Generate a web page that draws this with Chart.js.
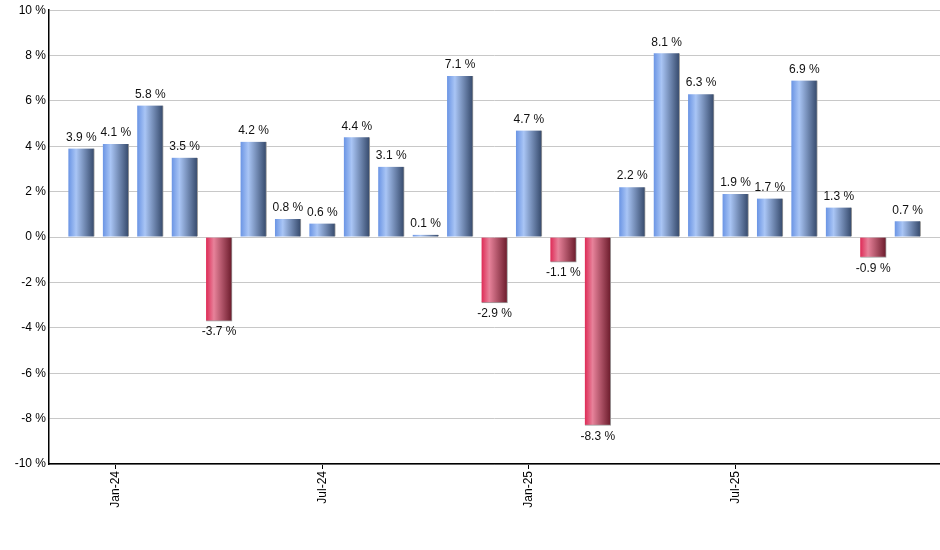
<!DOCTYPE html>
<html>
<head>
<meta charset="utf-8">
<script src="https://cdn.jsdelivr.net/npm/chart.js@4.4.1/dist/chart.umd.min.js"></script>
<style>
  html, body { margin: 0; padding: 0; background: #fff; }
  #wrap { width: 940px; height: 550px; }
</style>
</head>
<body>
<div id="wrap"><canvas id="chart"></canvas></div>
<script>
// monthly returns, Dec-23 .. Dec-25
const months = [
  "Dec-23", "Jan-24", "Feb-24", "Mar-24", "Apr-24", "May-24", "Jun-24",
  "Jul-24", "Aug-24", "Sep-24", "Oct-24", "Nov-24", "Dec-24",
  "Jan-25", "Feb-25", "Mar-25", "Apr-25", "May-25", "Jun-25",
  "Jul-25", "Aug-25", "Sep-25", "Oct-25", "Nov-25", "Dec-25"
];
const returns = [
  3.9, 4.1, 5.8, 3.5, -3.7, 4.2, 0.8, 0.6, 4.4, 3.1, 0.1, 7.1, -2.9,
  4.7, -1.1, -8.3, 2.2, 8.1, 6.3, 1.9, 1.7, 6.9, 1.3, -0.9, 0.7
];
const yTicks = [-10, -8, -6, -4, -2, 0, 2, 4, 6, 8, 10];
const xTickMonths = ["Jan-24", "Jul-24", "Jan-25", "Jul-25"];

const FONT = "'Liberation Sans', Arial, sans-serif";

function barGradient(context) {
  const chart = context.chart;
  const xScale = chart.scales.x;
  if (!xScale || context.type !== 'data') return '#7fa3e8';
  const cx = xScale.getPixelForValue(context.parsed.x);
  if (!isFinite(cx)) return '#7fa3e8';
  const g = chart.ctx.createLinearGradient(cx - 13, 0, cx + 13, 0);
  if (context.parsed.y >= 0) {
    g.addColorStop(0, '#6a94e4');
    g.addColorStop(0.3, '#a9c5f5');
    g.addColorStop(1, '#34486a');
  } else {
    g.addColorStop(0, '#de2a56');
    g.addColorStop(0.3, '#e7829a');
    g.addColorStop(1, '#6a1a2a');
  }
  return g;
}

const valueLabels = {
  id: 'valueLabels',
  afterDatasetsDraw(chart) {
    const ctx = chart.ctx;
    const meta = chart.getDatasetMeta(0);
    ctx.save();
    ctx.font = "12px " + FONT;
    ctx.fillStyle = '#111';
    ctx.textAlign = 'center';
    meta.data.forEach((bar, i) => {
      const v = returns[i];
      const txt = v.toFixed(1) + ' %';
      if (v >= 0) {
        ctx.textBaseline = 'bottom';
        ctx.fillText(txt, bar.x, bar.y - 5);
      } else {
        ctx.textBaseline = 'top';
        ctx.fillText(txt, bar.x, bar.y + 5);
      }
    });
    ctx.restore();
  }
};

new Chart(document.getElementById('chart'), {
  type: 'bar',
  data: {
    datasets: [{
      data: returns.map((v, i) => ({ x: i, y: v })),
      backgroundColor: barGradient,
      borderColor: '#9c9c9c',
      borderWidth: { top: 0, left: 0, right: 1, bottom: 1 },
      barThickness: 26
    }]
  },
  options: {
    responsive: true,
    maintainAspectRatio: false,
    animation: false,
    layout: { padding: { top: 9, right: 0, left: 0, bottom: 0 } },
    plugins: {
      legend: { display: false },
      tooltip: { enabled: false }
    },
    scales: {
      x: {
        type: 'linear',
        offset: false,
        min: -0.94,
        max: 24.94,
        afterBuildTicks: (scale) => {
          scale.ticks = xTickMonths.map(m => ({ value: months.indexOf(m) }));
        },
        afterFit: (scale) => { scale.height = 86; },
        ticks: {
          autoSkip: false,
          minRotation: 90,
          maxRotation: 90,
          padding: 2,
          color: '#000',
          font: { family: FONT, size: 12 },
          callback: (value) => months[value]
        },
        grid: {
          offset: false,
          drawOnChartArea: false,
          drawTicks: true,
          tickLength: 5,
          tickColor: '#000'
        },
        border: { display: true, color: '#000', width: 1.5 }
      },
      y: {
        min: -10,
        max: 10,
        afterBuildTicks: (scale) => {
          scale.ticks = yTicks.map(v => ({ value: v }));
        },
        afterFit: (scale) => { scale.width = 49; },
        ticks: {
          padding: 3,
          color: '#000',
          font: { family: FONT, size: 12 },
          callback: (value) => value + ' %'
        },
        grid: {
          color: '#c8c8c8',
          lineWidth: 1,
          drawTicks: false
        },
        border: { display: true, color: '#000', width: 1.5 }
      }
    }
  },
  plugins: [valueLabels]
});
</script>
</body>
</html>
